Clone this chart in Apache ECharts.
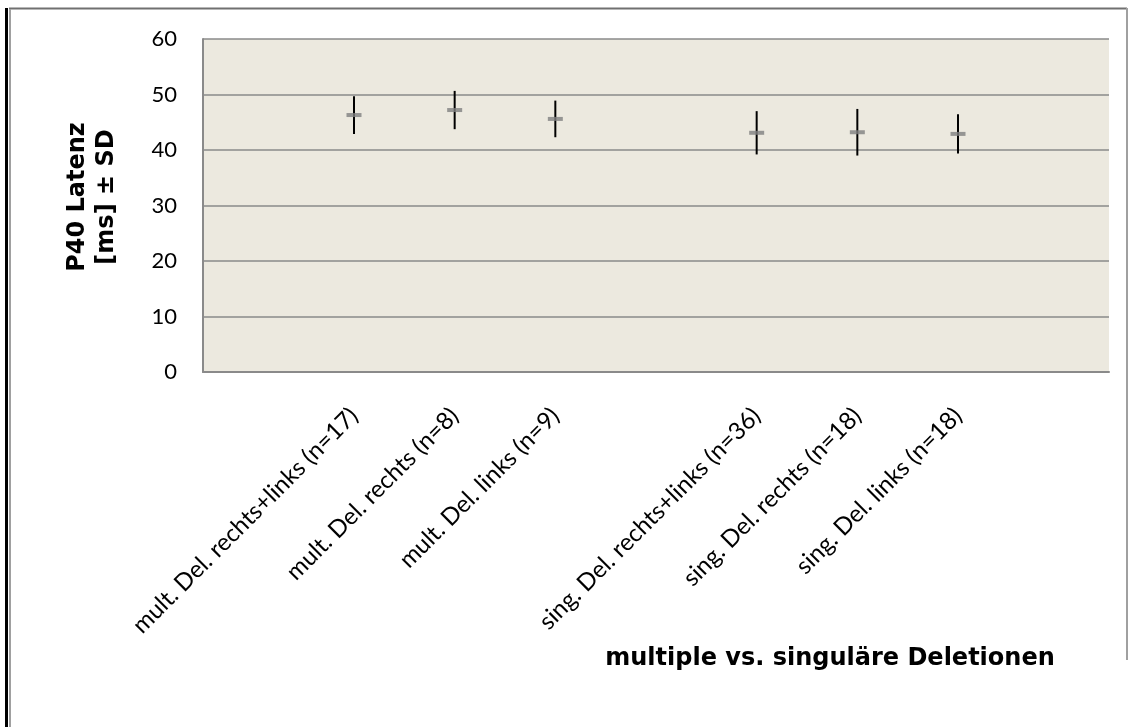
<!DOCTYPE html>
<html>
<head>
<meta charset="utf-8">
<script src="https://cdn.jsdelivr.net/npm/echarts@6/dist/echarts.min.js"></script>
<style>
  html, body { margin: 0; padding: 0; background: #ffffff; }
  #chart { width: 1134px; height: 727px; }
</style>
</head>
<body>
<div id="chart"></div>
<script>
// Groups on the category axis; empty slots separate the two blocks.
const categories = [
  '',
  'mult. Del. rechts+links (n=17)',
  'mult. Del. rechts (n=8)',
  'mult. Del. links (n=9)',
  '',
  'sing. Del. rechts+links (n=36)',
  'sing. Del. rechts (n=18)',
  'sing. Del. links (n=18)',
  ''
];
// Mean P40 latency (ms) and standard deviation per group.
const means = [null, 46.3, 47.2, 45.6, null, 43.1, 43.2, 42.9, null];
const sds   = [null, 3.4, 3.45, 3.3, null, 3.9, 4.2, 3.55, null];
// Value axis range.
const yMin = 0, yMax = 60, yStep = 10;

const yTitleLines = ['P40 Latenz', '[ms] ± SD'];
const xTitle = 'multiple vs. singuläre Deletionen';

const errData = [];
const meanData = [];
means.forEach((m, i) => {
  if (m == null) return;
  errData.push([i, m - sds[i], m + sds[i]]);
  meanData.push([i, m]);
});

const chart = echarts.init(document.getElementById('chart'), null, { renderer: 'canvas' });

chart.setOption({
  animation: false,
  backgroundColor: '#ffffff',
  grid: {
    left: 203, top: 39, right: 25, bottom: 355,
    show: true, backgroundColor: '#ECE9DF', borderWidth: 0
  },
  xAxis: {
    type: 'category',
    data: categories,
    boundaryGap: true,
    axisLine: { show: true, lineStyle: { color: '#8a8a8a', width: 2 } },
    axisTick: { show: false },
    splitLine: { show: false },
    axisLabel: {
      interval: 0, rotate: 45, margin: 40,
      fontFamily: 'Lato', fontSize: 24, color: '#000000'
    }
  },
  yAxis: {
    type: 'value',
    min: yMin, max: yMax, interval: yStep,
    axisLine: { show: true, lineStyle: { color: '#8a8a8a', width: 2 } },
    axisTick: { show: false },
    splitLine: { show: true, lineStyle: { color: '#8a8a8a', width: 1.5 } },
    axisLabel: {
      margin: 26, fontFamily: 'Lato', fontSize: 22, color: '#000000'
    }
  },
  series: [
    {
      type: 'custom',
      name: 'SD',
      data: errData,
      z: 2,
      silent: true,
      renderItem: function (params, api) {
        const x = api.value(0);
        const lo = api.coord([x, api.value(1)]);
        const hi = api.coord([x, api.value(2)]);
        return {
          type: 'line',
          shape: { x1: lo[0], y1: lo[1], x2: hi[0], y2: hi[1] },
          style: { stroke: '#000000', lineWidth: 2 }
        };
      }
    },
    {
      type: 'scatter',
      name: 'Mittelwert',
      data: meanData,
      z: 3,
      silent: true,
      symbol: 'rect',
      symbolSize: [15, 4],
      itemStyle: { color: '#808080' }
    }
  ],
  graphic: [
    // outer frame
    { type: 'line', shape: { x1: 6.5, y1: 8, x2: 6.5, y2: 727 }, style: { stroke: '#000000', lineWidth: 3 } },
    { type: 'line', shape: { x1: 9, y1: 8.5, x2: 1127, y2: 8.5 }, style: { stroke: '#707070', lineWidth: 2 } },
    { type: 'line', shape: { x1: 10, y1: 9, x2: 10, y2: 727 }, style: { stroke: '#a0a0a0', lineWidth: 2 } },
    { type: 'line', shape: { x1: 1127, y1: 8, x2: 1127, y2: 660 }, style: { stroke: '#a0a0a0', lineWidth: 2 } },
    // value axis title
    {
      type: 'text',
      x: 92, y: 197,
      rotation: Math.PI / 2,
      style: {
        text: yTitleLines.join('\n'),
        fontFamily: 'DejaVu Sans', fontWeight: 'bold', fontSize: 24,
        lineHeight: 29,
        fill: '#000000', align: 'center', verticalAlign: 'middle'
      }
    },
    // category axis title
    {
      type: 'text',
      x: 830, y: 659,
      style: {
        text: xTitle,
        fontFamily: 'DejaVu Sans', fontWeight: 'bold', fontSize: 24,
        fill: '#000000', align: 'center', verticalAlign: 'middle'
      }
    }
  ]
});
</script>
</body>
</html>
